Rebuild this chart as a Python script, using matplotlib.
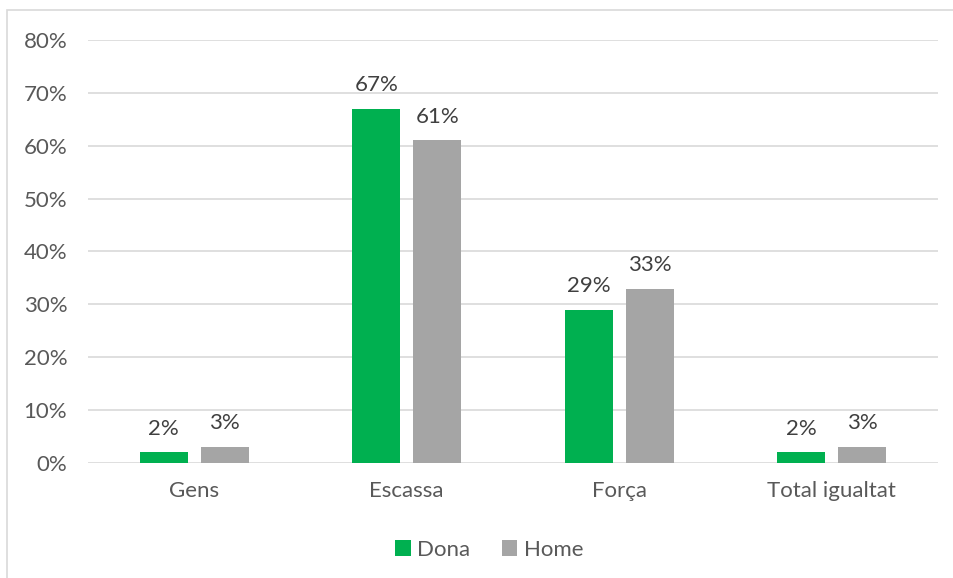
import matplotlib
matplotlib.use("Agg")
import matplotlib.pyplot as plt
import numpy as np

categories = ["Gens", "Escassa", "Força", "Total igualtat"]
dona = [2, 67, 29, 2]
home = [3, 61, 33, 3]
yticks = [0, 10, 20, 30, 40, 50, 60, 70, 80]

plt.rcParams['font.family'] = ['Lato', 'DejaVu Sans']
txt = '#595959'

fig = plt.figure(figsize=(9.54, 5.78), dpi=100)
# chart border (left/top visible)
fig.patches.append(plt.Rectangle((7/954, -0.1), 1.1, 1 - 10/578 + 0.1, transform=fig.transFigure,
                                 fill=False, edgecolor='#d9d9d9', linewidth=1.2))
ax = fig.add_axes([88/954, 1 - 463/578, 850/954, 423/578])

x = np.arange(len(categories))
w = 0.226
off = 0.143
b1 = ax.bar(x - off, dona, w, color='#00b050', label='Dona', zorder=3)
b2 = ax.bar(x + off, home, w, color='#a5a5a5', label='Home', zorder=3)

for bars, vals in ((b1, dona), (b2, home)):
    for b, v in zip(bars, vals):
        ax.text(b.get_x() + b.get_width() / 2, v + 2.6, f"{v}%", ha='center', va='bottom',
                fontsize=16, color='#404040')

ax.set_xlim(-0.5, 3.5)
ax.set_ylim(0, 80)
ax.set_yticks(yticks)
ax.set_yticklabels([f"{t}%" for t in yticks])
ax.set_xticks(x)
ax.set_xticklabels(categories)
ax.tick_params(axis='both', length=0, labelsize=16, colors=txt)
ax.tick_params(axis='y', pad=15)
ax.tick_params(axis='x', pad=13)
ax.grid(axis='y', color='#d9d9d9', linewidth=1.2, zorder=0)
for s in ax.spines.values():
    s.set_visible(False)

leg = ax.legend(loc='center', bbox_to_anchor=(0.472, -0.205), ncol=2, frameon=False,
                fontsize=16, handlelength=0.7, handleheight=0.7, handletextpad=0.3,
                columnspacing=1.4)
for t in leg.get_texts():
    t.set_color(txt)

fig.savefig("out.png", dpi=100)
